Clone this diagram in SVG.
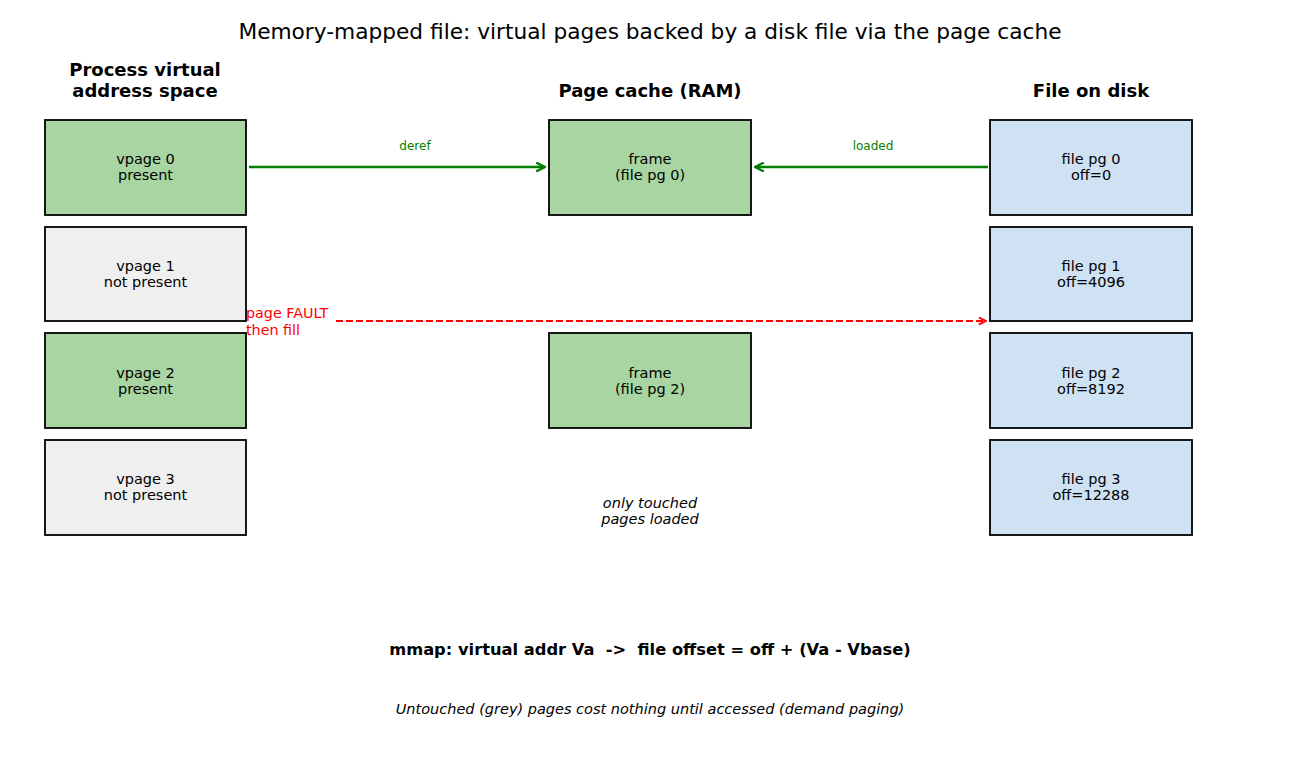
<svg xmlns="http://www.w3.org/2000/svg" width="1300" height="780" viewBox="0 0 1300 780">
<style>
text{font-family:"DejaVu Sans","Liberation Sans",sans-serif;fill:#000}
.title{font-size:21.7px}
.hdr{font-size:18px;font-weight:bold}
.lbl{font-size:14.5px}
.box{stroke:#000;stroke-width:1.8}
.g{fill:#a8d5a2}
.gr{fill:#efefef}
.b{fill:#cfe2f3}
.gl{font-size:12px;fill:#008000}
.rl{font-size:14.3px;fill:#ff0000}
.it{font-size:14.5px;font-style:italic}
</style>
<defs>
<marker id="ag" viewBox="0 0 10 10" refX="9" refY="5" markerWidth="11" markerHeight="11" markerUnits="userSpaceOnUse" orient="auto"><path d="M1,1 L9,5 L1,9" fill="none" stroke="#008000" stroke-width="2.2"/></marker>
<marker id="ar" viewBox="0 0 10 10" refX="9" refY="5" markerWidth="9" markerHeight="9" markerUnits="userSpaceOnUse" orient="auto"><path d="M1,1 L9,5 L1,9" fill="none" stroke="#ff0000" stroke-width="2"/></marker>
</defs>
<rect width="1300" height="780" fill="#fff"/>
<text class="title" x="650" y="39" text-anchor="middle">Memory-mapped file: virtual pages backed by a disk file via the page cache</text>
<text class="hdr" x="145" y="76" text-anchor="middle">Process virtual</text>
<text class="hdr" x="145" y="97" text-anchor="middle">address space</text>
<text class="hdr" x="650" y="97" text-anchor="middle">Page cache (RAM)</text>
<text class="hdr" x="1091" y="97" text-anchor="middle">File on disk</text>
<g id="connectors">
<line x1="249" y1="167" x2="545" y2="167" stroke="#008000" stroke-width="2.4" marker-end="url(#ag)"/>
<text class="gl" x="415" y="150" text-anchor="middle">deref</text>
<line x1="988" y1="167" x2="755" y2="167" stroke="#008000" stroke-width="2.4" marker-end="url(#ag)"/>
<text class="gl" x="873" y="150" text-anchor="middle">loaded</text>
<line x1="336" y1="321" x2="986" y2="321" stroke="#ff0000" stroke-width="2" stroke-dasharray="7,3" marker-end="url(#ar)"/>
<text class="rl" x="246" y="318">page FAULT</text>
<text class="rl" x="246" y="335">then fill</text>
</g>
<g id="vpage0"><rect class="box g" x="45" y="120" width="201" height="95"/><text class="lbl" x="145.5" y="164" text-anchor="middle">vpage 0</text><text class="lbl" x="145.5" y="180" text-anchor="middle">present</text></g>
<g id="vpage1"><rect class="box gr" x="45" y="227" width="201" height="94"/><text class="lbl" x="145.5" y="271" text-anchor="middle">vpage 1</text><text class="lbl" x="145.5" y="287" text-anchor="middle">not present</text></g>
<g id="vpage2"><rect class="box g" x="45" y="333" width="201" height="95"/><text class="lbl" x="145.5" y="378" text-anchor="middle">vpage 2</text><text class="lbl" x="145.5" y="394" text-anchor="middle">present</text></g>
<g id="vpage3"><rect class="box gr" x="45" y="440" width="201" height="95"/><text class="lbl" x="145.5" y="484" text-anchor="middle">vpage 3</text><text class="lbl" x="145.5" y="500" text-anchor="middle">not present</text></g>
<g id="frame0"><rect class="box g" x="549" y="120" width="202" height="95"/><text class="lbl" x="650" y="164" text-anchor="middle">frame</text><text class="lbl" x="650" y="180" text-anchor="middle">(file pg 0)</text></g>
<g id="frame2"><rect class="box g" x="549" y="333" width="202" height="95"/><text class="lbl" x="650" y="378" text-anchor="middle">frame</text><text class="lbl" x="650" y="394" text-anchor="middle">(file pg 2)</text></g>
<g id="file0"><rect class="box b" x="990" y="120" width="202" height="95"/><text class="lbl" x="1091" y="164" text-anchor="middle">file pg 0</text><text class="lbl" x="1091" y="180" text-anchor="middle">off=0</text></g>
<g id="file1"><rect class="box b" x="990" y="227" width="202" height="94"/><text class="lbl" x="1091" y="271" text-anchor="middle">file pg 1</text><text class="lbl" x="1091" y="287" text-anchor="middle">off=4096</text></g>
<g id="file2"><rect class="box b" x="990" y="333" width="202" height="95"/><text class="lbl" x="1091" y="378" text-anchor="middle">file pg 2</text><text class="lbl" x="1091" y="394" text-anchor="middle">off=8192</text></g>
<g id="file3"><rect class="box b" x="990" y="440" width="202" height="95"/><text class="lbl" x="1091" y="484" text-anchor="middle">file pg 3</text><text class="lbl" x="1091" y="500" text-anchor="middle">off=12288</text></g>
<text class="it" x="650" y="508" text-anchor="middle">only touched</text>
<text class="it" x="650" y="524" text-anchor="middle">pages loaded</text>
<text x="650" y="655" text-anchor="middle" style="font-size:16.3px;font-weight:bold;white-space:pre" xml:space="preserve">mmap: virtual addr Va  -&gt;  file offset = off + (Va - Vbase)</text>
<text class="it" x="650" y="714" text-anchor="middle">Untouched (grey) pages cost nothing until accessed (demand paging)</text>
</svg>
